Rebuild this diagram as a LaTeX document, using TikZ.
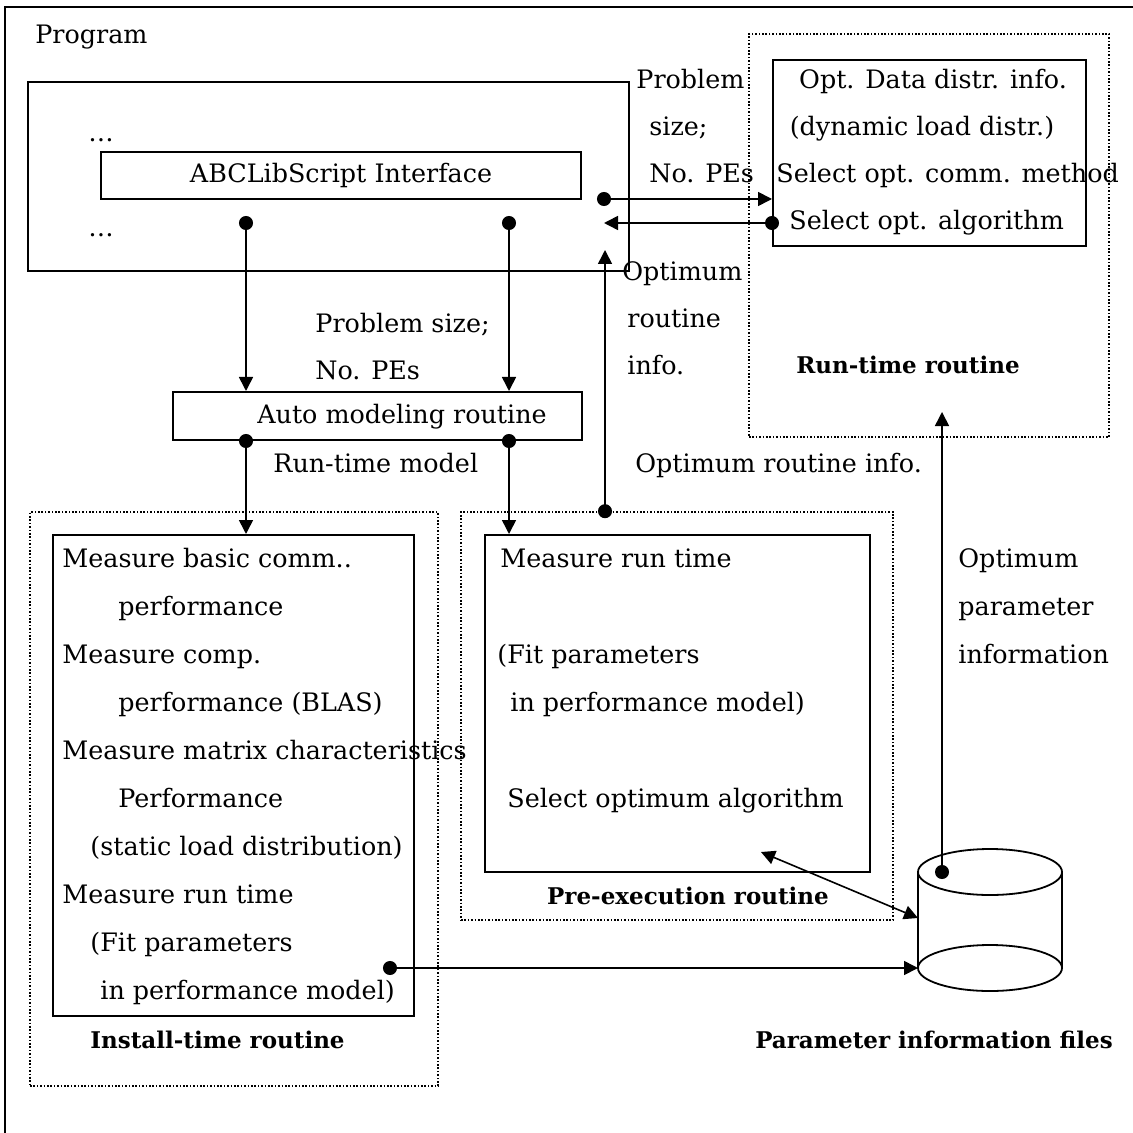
\documentclass[tikz,border=0pt]{standalone}
\usepackage{fontspec}
\setmainfont{DejaVu Serif}
\usetikzlibrary{arrows.meta,positioning}
\tikzset{
  txt/.style   ={inner sep=0pt,anchor=west,text height=9.3pt,text depth=2.7pt,
                 font=\fontsize{12.7}{14}\selectfont},
  ctxt/.style  ={txt,anchor=center},
  title/.style ={inner sep=0pt,text height=8.5pt,text depth=2.5pt,
                 font=\bfseries\fontsize{11.5}{13}\selectfont},
  box/.style   ={draw,line width=1pt,inner sep=0pt},
  group/.style ={draw,line width=0.8pt,dash pattern=on 0.8pt off 0.9pt,inner sep=0pt},
  dotarr/.style={{Circle[length=7pt]}-{Triangle[length=7pt,width=7pt]},
                 line width=0.8pt,shorten <=-3.5pt},
  dblarr/.style={{Triangle[length=7pt,width=7pt]}-{Triangle[length=7pt,width=7pt]},
                 line width=0.8pt}
}

\begin{document}
\begin{tikzpicture}[x=0.5pt,y=-0.5pt]
  \useasboundingbox (0,0) rectangle (1133,1133);
  % outer frame (runs off the page right and bottom)
  \draw[line width=0.9pt] (5,1150) -- (5,7) -- (1150,7);
  \node[txt] (prog) at (35,37) {Program};

  % Program part
  \node[box,minimum width=300.5pt,minimum height=94.5pt] (progbox) at (328.5,176.5) {};
  \node[box,minimum width=240pt,minimum height=23.5pt] (abc) at (341,175.5) {};
  \node[ctxt] (abctxt) at (abc) {ABCLibScript Interface};
  \node[ctxt] (dotsa) at (101,135) {\ldots};
  \node[ctxt] (dotsb) at (101,230) {\ldots};

  % Run-time routine
  \node[group,minimum width=180pt,minimum height=201.5pt] (rtgroup) at (929,235.5) {};
  \node[box,minimum width=156.5pt,minimum height=93pt] (rtbox) at (929.5,153) {};
  \node[ctxt] (rt1) at (933,82)  {Opt. Data distr. info.};
  \node[ctxt] (rt2) at (922,129) {(dynamic load distr.)};
  \node[txt]  (rt3) at (776,176) {Select opt. comm. method};
  \node[txt]  (rt4) at (789,223) {Select opt. algorithm};
  \node[title] (rttitle) at (908,368) {Run-time routine};

  \node[txt] (ps1) at (636,82)  {Problem};
  \node[txt] (ps2) at (649,129) {size;};
  \node[txt] (ps3) at (649,176) {No. PEs};
  \node[txt] (or1) at (622,274) {Optimum};
  \node[txt] (or2) at (627,321) {routine};
  \node[txt] (or3) at (627,368) {info.};

  % Auto modeling routine
  \node[box,minimum width=204.5pt,minimum height=24pt] (auto) at (377.5,416) {};
  \node[ctxt] (autotxt) at (402,417) {Auto modeling routine};
  \node[txt] (pm1) at (315,326) {Problem size;};
  \node[txt] (pm2) at (315,373) {No. PEs};
  \node[txt] (rtm) at (273,466) {Run-time model};
  \node[txt] (ori) at (635,466) {Optimum routine info.};

  % Install-time routine
  \node[group,minimum width=204pt,minimum height=287pt] (instgroup) at (234,799) {};
  \node[box,minimum width=180.5pt,minimum height=240.5pt] (instbox) at (233.5,775.5) {};
  \node[txt] (in1)  at (62,561)  {Measure basic comm..};
  \node[txt] (in2)  at (118,609) {performance};
  \node[txt] (in3)  at (62,657)  {Measure comp.};
  \node[txt] (in4)  at (118,705) {performance (BLAS)};
  \node[txt] (in5)  at (62,753)  {Measure matrix characteristics};
  \node[txt] (in6)  at (118,801) {Performance};
  \node[txt] (in7)  at (90,849)  {(static load distribution)};
  \node[txt] (in8)  at (62,897)  {Measure run time};
  \node[txt] (in9)  at (90,945)  {(Fit parameters};
  \node[txt] (in10) at (100,993) {in performance model)};
  \node[title,anchor=west] (insttitle) at (90,1042) {Install-time routine};

  % Pre-execution routine
  \node[group,minimum width=216pt,minimum height=204pt] (pregroup) at (677,716) {};
  \node[box,minimum width=192.5pt,minimum height=168.5pt] (prebox) at (677.5,703.5) {};
  \node[txt] (pe1) at (500,561) {Measure run time};
  \node[txt] (pe2) at (497,657) {(Fit parameters};
  \node[txt] (pe3) at (510,705) {in performance model)};
  \node[txt] (pe4) at (507,801) {Select optimum algorithm};
  \node[title] (pretitle) at (688,898) {Pre-execution routine};

  % Parameter information files
  \draw[line width=0.9pt] (918,872) -- (918,968)
    arc[start angle=180,end angle=360,x radius=36pt,y radius=11.5pt] -- (1062,872);
  \draw[line width=0.9pt] (990,872) ellipse[x radius=36pt,y radius=11.5pt];
  \draw[line width=0.9pt] (918,968)
    arc[start angle=180,end angle=0,x radius=36pt,y radius=11.5pt];
  \coordinate (dbtop)  at (942,872);
  \coordinate (dbwest) at (918,968);
  \coordinate (dbside) at (918,918);
  \node[title] (filestitle) at (934,1042) {Parameter information files};
  \node[txt] (op1) at (958,561) {Optimum};
  \node[txt] (op2) at (958,609) {parameter};
  \node[txt] (op3) at (958,657) {information};

  % Arrows
  \coordinate (sendpt) at (604,199);
  \coordinate (recvpt) at (604,223);
  \coordinate (optin)  at (605,250);
  \coordinate (ifl)    at (246,223);
  \coordinate (ifr)    at (509,223);
  \coordinate (instout) at (390,968);
  \coordinate (rtin)   at (942,412);
  \coordinate (algopt) at (761,852);

  \draw[dotarr] (sendpt) -- (sendpt -| rtbox.west);
  \draw[dotarr] (recvpt -| rtbox.west) -- (recvpt);
  \draw[dotarr] (optin |- pregroup.north) -- (optin);
  \draw[dotarr] (ifl) -- (ifl |- auto.north);
  \draw[dotarr] (ifr) -- (ifr |- auto.north);
  \draw[dotarr] (ifl |- auto.south) -- (ifl |- instbox.north);
  \draw[dotarr] (ifr |- auto.south) -- (ifr |- prebox.north);
  \draw[dotarr] (dbtop) -- (rtin);
  \draw[dotarr] (instout) -- (dbwest);
  \draw[dblarr] (algopt) -- (dbside);
\end{tikzpicture}
\end{document}
